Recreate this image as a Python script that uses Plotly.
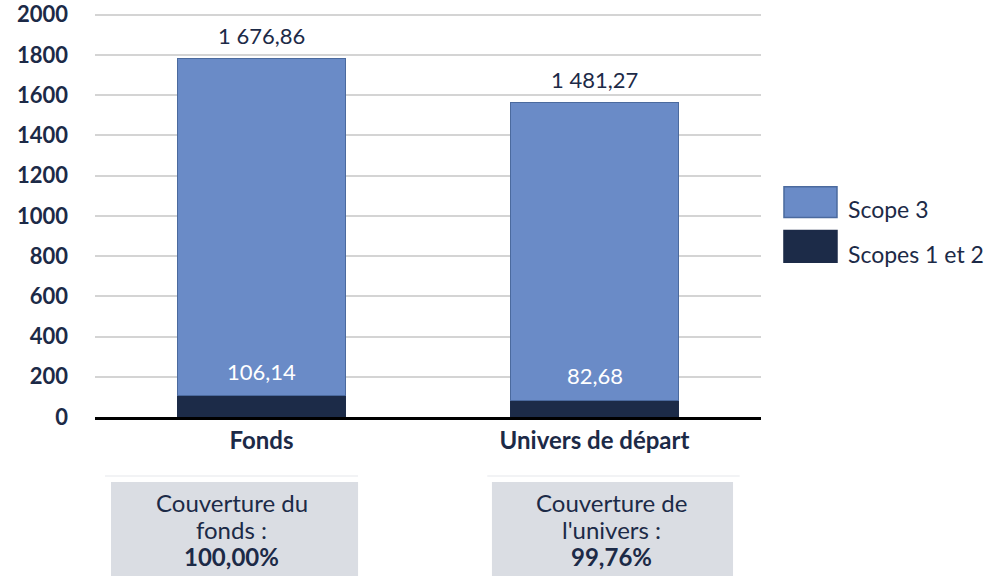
import plotly.graph_objects as go

categories = ["Fonds", "Univers de départ"]
scopes_1_2 = [106.14, 82.68]
scope_3 = [1676.86, 1481.27]
series_names = ["Scope 3", "Scopes 1 et 2"]
coverage_titles = ["Couverture du", "Couverture de"]
coverage_subtitles = ["fonds :", "l'univers :"]
coverage_values = ["100,00%", "99,76%"]
y_ticks = [0, 200, 400, 600, 800, 1000, 1200, 1400, 1600, 1800, 2000]

FONT = "Lato"
TXT = "#1C2A47"
C3 = "#6A8BC7"
C3_LINE = "#4B6A9E"
C12 = "#1C2B48"


def fr(v):
    s = f"{v:,.2f}"
    return s.replace(",", " ").replace(".", ",")


fig = go.Figure()
fig.add_trace(go.Bar(x=categories, y=scopes_1_2, name=series_names[1],
                     marker=dict(color=C12, line=dict(color=C12, width=1)),
                     showlegend=False, hoverinfo="skip"))
fig.add_trace(go.Bar(x=categories, y=scope_3, name=series_names[0],
                     marker=dict(color=C3, line=dict(color=C3_LINE, width=1.5)),
                     showlegend=False, hoverinfo="skip"))

annotations = []
for i, c in enumerate(categories):
    total = scopes_1_2[i] + scope_3[i]
    annotations.append(dict(x=c, y=total, xref="x", yref="y", text=fr(scope_3[i]),
                            showarrow=False, yanchor="bottom", yshift=7,
                            font=dict(family=FONT, size=22, color=TXT)))
    annotations.append(dict(x=c, y=scopes_1_2[i], xref="x", yref="y", text=fr(scopes_1_2[i]),
                            showarrow=False, yanchor="bottom", yshift=9,
                            font=dict(family=FONT, size=22, color="white")))

# custom legend
shapes = []
leg = [(series_names[0], C3, C3_LINE, 0.570, 0.494, 0.514),
       (series_names[1], C12, C12, 0.4617, 0.383, 0.403)]
for name, fc, lc, y1, y0, yt in leg:
    shapes.append(dict(type="rect", xref="paper", yref="paper", x0=1.0345, x1=1.1141,
                       y0=y0, y1=y1, fillcolor=fc, line=dict(color=lc, width=1.5)))
    annotations.append(dict(x=1.1276, y=yt, xref="paper", yref="paper", text=name,
                            showarrow=False, xanchor="left", yanchor="middle",
                            font=dict(family=FONT, size=23, color=TXT)))

# coverage boxes
boxes = [(0.024, 0.395, 0.205, 0.015, 0.395), (0.596, 0.958, 0.7755, 0.589, 0.968)]
for i, (x0, x1, xc, lx0, lx1) in enumerate(boxes):
    shapes.append(dict(type="line", xref="paper", yref="paper", x0=lx0, x1=lx1,
                       y0=-0.1458, y1=-0.1458, line=dict(color="#EEEFF2", width=1.5)))
    shapes.append(dict(type="rect", xref="paper", yref="paper", x0=x0, x1=x1,
                       y0=-0.45, y1=-0.1608, fillcolor="#DADDE3", line=dict(width=0)))
    for j, (txt, yy) in enumerate([(coverage_titles[i], -0.2115),
                                   (coverage_subtitles[i], -0.279),
                                   ("<b>" + coverage_values[i] + "</b>", -0.346)]):
        annotations.append(dict(x=xc, y=yy, xref="paper", yref="paper", text=txt,
                                showarrow=False, xanchor="center", yanchor="middle",
                                font=dict(family=FONT, size=24, color=TXT)))

fig.update_layout(
    barmode="stack",
    bargap=0.495,
    width=988, height=576,
    margin=dict(l=95, r=227, t=13, b=159, autoexpand=False),
    paper_bgcolor="white", plot_bgcolor="white",
    showlegend=False,
    shapes=shapes,
    annotations=annotations,
    font=dict(family=FONT, color=TXT),
)
fig.update_yaxes(range=[0, 2008], tickvals=y_ticks, showgrid=True, gridcolor="#D4D4D4",
                 gridwidth=2, zeroline=False, showline=False, automargin=False,
                 tickfont=dict(family=FONT, size=22, color=TXT, weight="bold"),
                 ticklabelstandoff=26)
fig.update_xaxes(showline=True, linecolor="black", linewidth=2.5, showgrid=False,
                 automargin=False,
                 tickfont=dict(family=FONT, size=24, color=TXT, weight="bold"),
                 ticklabelstandoff=0)

fig.write_html("out.html", config={"displayModeBar": False},
               post_script="document.body.style.margin='0';document.body.style.overflow='hidden';")
